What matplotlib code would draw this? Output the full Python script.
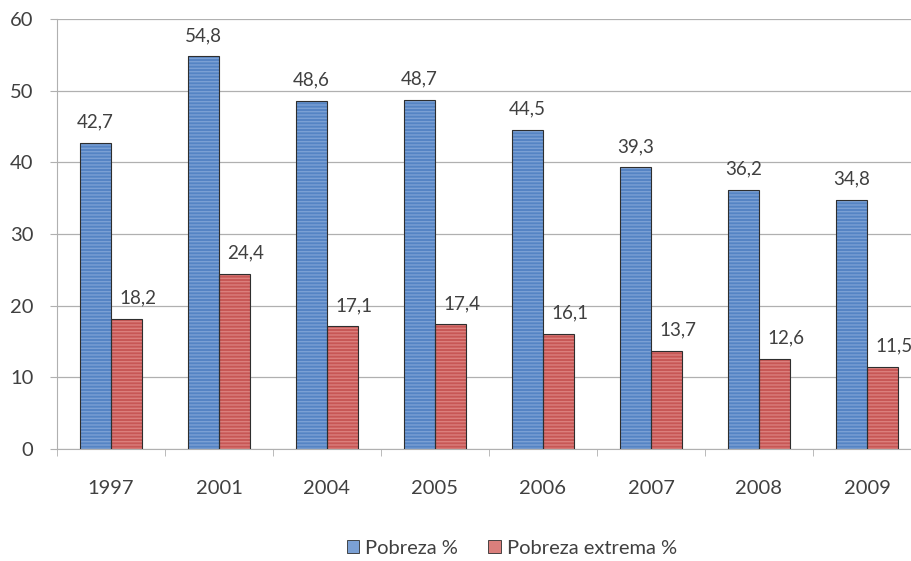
import matplotlib.pyplot as plt
import numpy as np
from matplotlib.patches import Patch

years = ['1997', '2001', '2004', '2005', '2006', '2007', '2008', '2009']
pobreza = [42.7, 54.8, 48.6, 48.7, 44.5, 39.3, 36.2, 34.8]
extrema = [18.2, 24.4, 17.1, 17.4, 16.1, 13.7, 12.6, 11.5]

plt.rcParams['font.family'] = ['Lato', 'DejaVu Sans']
plt.rcParams['hatch.linewidth'] = 1.0

fig = plt.figure(figsize=(9.12, 5.61), dpi=100)
# the plot area runs a little past the right edge of the figure
ax = fig.add_axes([57 / 912, 1 - 449 / 561, 864 / 912, 430 / 561])

x = np.arange(len(years))
w = 0.29
blue, blue_s = '#5584c4', '#7ba0d4'
red, red_s = '#c75755', '#db7f7c'
txt = '#404040'

def bars(pos, vals, face, stripe):
    ax.bar(pos, vals, w, color=face, edgecolor=stripe, hatch='-----', linewidth=0, zorder=3)
    ax.bar(pos, vals, w, fill=False, edgecolor='#2e2e2e', linewidth=0.8, zorder=4)

bars(x - w / 2, pobreza, blue, blue_s)
bars(x + w / 2, extrema, red, red_s)

for i in range(len(years)):
    ax.annotate(f'{pobreza[i]:.1f}'.replace('.', ','), (x[i] - w / 2, pobreza[i]),
                xytext=(0, 15), textcoords='offset points', ha='center', va='center',
                fontsize=13.5, color=txt, annotation_clip=False)
    ax.annotate(f'{extrema[i]:.1f}'.replace('.', ','), (x[i] + w / 2, extrema[i]),
                xytext=(8, 15), textcoords='offset points', ha='center', va='center',
                fontsize=13.5, color=txt, annotation_clip=False)

ax.set_xlim(-0.5, len(years) - 0.5)
ax.set_ylim(0, 60)
ax.set_yticks(range(0, 61, 10))
ax.yaxis.grid(True, color='#b0b0b0', linewidth=0.9, zorder=0)
ax.set_axisbelow(True)

ax.set_xticks(x)
ax.set_xticklabels(years)
ax.set_xticks(np.arange(-0.5, len(years), 1), minor=True)
ax.tick_params(axis='x', which='major', length=0, pad=22, labelsize=14.5, labelcolor=txt)
ax.tick_params(axis='x', which='minor', length=5, color='#b0b0b0', direction='out')
ax.tick_params(axis='y', length=5, color='#b0b0b0', labelsize=14.5, labelcolor=txt, pad=12)

for s in ['top', 'right']:
    ax.spines[s].set_visible(False)
ax.spines['left'].set_color('#b0b0b0')
ax.spines['bottom'].set_color('#b0b0b0')

handles = [Patch(facecolor=blue_s, edgecolor='#2e2e2e', linewidth=0.6, label='Pobreza %'),
           Patch(facecolor=red_s, edgecolor='#2e2e2e', linewidth=0.6, label='Pobreza extrema %')]
fig.legend(handles=handles, loc='center', bbox_to_anchor=(512 / 912, 1 - 548 / 561), ncol=2,
           frameon=False, fontsize=14.5, handlelength=0.6, handleheight=0.6, handletextpad=0.3,
           columnspacing=1.5, labelcolor=txt)

fig.savefig('out.png', dpi=100)
